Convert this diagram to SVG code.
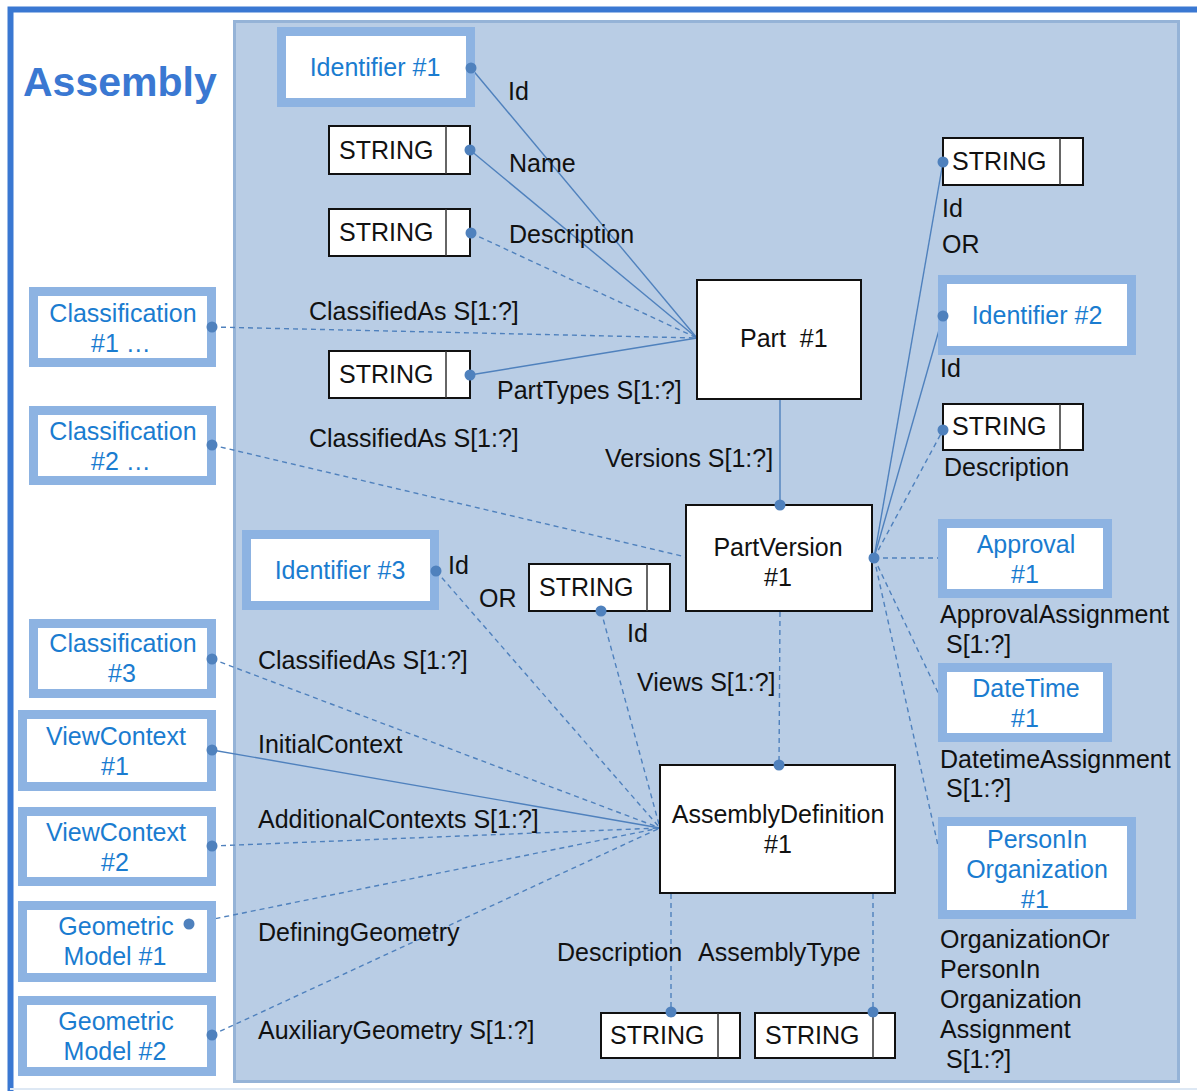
<svg xmlns="http://www.w3.org/2000/svg" width="1197" height="1091" viewBox="0 0 1197 1091">
<style>
text{font-family:"Liberation Sans",Arial,sans-serif;font-size:25px;fill:#111}
.b{fill:#1a7cd0;text-anchor:middle}
.c{text-anchor:middle}
.frame{fill:#fff;stroke:#8db3e2;stroke-width:9}
.ent{fill:#fff;stroke:#111;stroke-width:2}
.str{fill:#fff;stroke:#111;stroke-width:2}
.div{stroke:#333;stroke-width:1.5}
.ln{stroke:#4f81bd;stroke-width:1.4;fill:none}
.d{stroke-dasharray:5 4}
.dot{fill:#4f81bd}
</style>
<rect x="0" y="0" width="1197" height="1091" fill="#fff"/>
<path d="M10.5 1091 V9.5 H1197" fill="none" stroke="#3a78d2" stroke-width="6"/>
<line x1="10" y1="1089" x2="1197" y2="1089" stroke="#dde8f4" stroke-width="2"/>
<rect x="234.5" y="21.5" width="944" height="1060" fill="#b9cde5" stroke="#95b3d7" stroke-width="3"/>
<text x="23" y="96" style="font-size:41px;font-weight:bold;fill:#3a78d2">Assembly</text>

<g id="connectors">
<line class="ln" x1="471" y1="68" x2="697" y2="338"/>
<line class="ln" x1="470" y1="150" x2="697" y2="338"/>
<line class="ln d" x1="471" y1="233" x2="697" y2="338"/>
<line class="ln d" x1="212" y1="327" x2="697" y2="338"/>
<line class="ln" x1="470" y1="375" x2="697" y2="338"/>
<line class="ln" x1="780" y1="399" x2="780" y2="505"/>
<line class="ln d" x1="212" y1="445" x2="686" y2="557"/>
<line class="ln" x1="874" y1="558" x2="943" y2="162"/>
<line class="ln" x1="874" y1="558" x2="943" y2="316"/>
<line class="ln d" x1="874" y1="558" x2="943" y2="430"/>
<line class="ln d" x1="874" y1="558" x2="939" y2="558"/>
<line class="ln d" x1="874" y1="558" x2="943" y2="703"/>
<line class="ln d" x1="874" y1="558" x2="943" y2="868"/>
<line class="ln d" x1="780" y1="612" x2="779" y2="765"/>
<line class="ln d" x1="436" y1="571" x2="660" y2="828"/>
<line class="ln d" x1="601" y1="611" x2="660" y2="828"/>
<line class="ln d" x1="212" y1="659" x2="660" y2="828"/>
<line class="ln" x1="212" y1="750" x2="660" y2="828"/>
<line class="ln d" x1="212" y1="846" x2="660" y2="828"/>
<line class="ln d" x1="189" y1="924" x2="660" y2="828"/>
<line class="ln d" x1="212" y1="1035" x2="660" y2="828"/>
<line class="ln d" x1="671" y1="894" x2="671" y2="1012"/>
<line class="ln d" x1="873" y1="894" x2="873" y2="1012"/>
</g>

<g id="labels">
<text x="508" y="100">Id</text>
<text x="509" y="172">Name</text>
<text x="509" y="243">Description</text>
<text x="309" y="320">ClassifiedAs S[1:?]</text>
<text x="497" y="399">PartTypes S[1:?]</text>
<text x="309" y="447">ClassifiedAs S[1:?]</text>
<text x="605" y="467">Versions S[1:?]</text>
<text x="942" y="217">Id</text>
<text x="942" y="253">OR</text>
<text x="940" y="377">Id</text>
<text x="944" y="476">Description</text>
<text x="940" y="623">ApprovalAssignment</text>
<text x="946" y="653">S[1:?]</text>
<text x="940" y="768">DatetimeAssignment</text>
<text x="946" y="797">S[1:?]</text>
<text x="940" y="948">OrganizationOr</text>
<text x="940" y="978">PersonIn</text>
<text x="940" y="1008">Organization</text>
<text x="940" y="1038">Assignment</text>
<text x="946" y="1068">S[1:?]</text>
<text x="448" y="574">Id</text>
<text x="479" y="607">OR</text>
<text x="627" y="642">Id</text>
<text x="637" y="691">Views S[1:?]</text>
<text x="258" y="669">ClassifiedAs S[1:?]</text>
<text x="258" y="753">InitialContext</text>
<text x="258" y="828">AdditionalContexts S[1:?]</text>
<text x="258" y="941">DefiningGeometry</text>
<text x="258" y="1039">AuxiliaryGeometry S[1:?]</text>
<text x="557" y="961">Description</text>
<text x="698" y="961">AssemblyType</text>
</g>

<g id="identifier1">
<rect class="frame" x="281.5" y="31.5" width="189" height="71"/>
<text class="b" x="375" y="76">Identifier #1</text>
<circle class="dot" cx="471" cy="68" r="5.5"/>
</g>
<g id="string-name">
<rect class="str" x="329" y="126" width="141" height="48"/>
<line class="div" x1="446" y1="126" x2="446" y2="174"/>
<text x="339" y="159">STRING</text>
<circle class="dot" cx="470" cy="150" r="5.5"/>
</g>
<g id="string-desc">
<rect class="str" x="329" y="209" width="141" height="47"/>
<line class="div" x1="446" y1="209" x2="446" y2="256"/>
<text x="339" y="241">STRING</text>
<circle class="dot" cx="471" cy="233" r="5.5"/>
</g>
<g id="string-parttypes">
<rect class="str" x="329" y="351" width="141" height="47"/>
<line class="div" x1="446" y1="351" x2="446" y2="398"/>
<text x="339" y="383">STRING</text>
<circle class="dot" cx="470" cy="375" r="5.5"/>
</g>
<g id="part1">
<rect class="ent" x="697" y="280" width="164" height="119"/>
<text x="740" y="347" xml:space="preserve">Part  #1</text>
</g>
<g id="partversion1">
<rect class="ent" x="686" y="505" width="186" height="106"/>
<text class="c" x="778" y="556">PartVersion</text>
<text class="c" x="778" y="586">#1</text>
<circle class="dot" cx="780" cy="505" r="5.5"/>
<circle class="dot" cx="874" cy="558" r="5.5"/>
</g>
<g id="assemblydefinition1">
<rect class="ent" x="660" y="765" width="235" height="128"/>
<text class="c" x="778" y="823">AssemblyDefinition</text>
<text class="c" x="778" y="853">#1</text>
<circle class="dot" cx="779" cy="765" r="5.5"/>
</g>
<g id="string-id-right">
<rect class="str" x="943" y="138" width="140" height="47"/>
<line class="div" x1="1060" y1="138" x2="1060" y2="185"/>
<text x="952" y="170">STRING</text>
<circle class="dot" cx="943" cy="162" r="5.5"/>
</g>
<g id="identifier2">
<rect class="frame" x="942.5" y="279.5" width="189" height="71"/>
<text class="b" x="1037" y="324">Identifier #2</text>
<circle class="dot" cx="943" cy="316" r="5.5"/>
</g>
<g id="string-desc-right">
<rect class="str" x="943" y="404" width="140" height="46"/>
<line class="div" x1="1060" y1="404" x2="1060" y2="450"/>
<text x="952" y="435">STRING</text>
<circle class="dot" cx="943" cy="430" r="5.5"/>
</g>
<g id="approval1">
<rect class="frame" x="942.5" y="523.5" width="165" height="70"/>
<text class="b" x="1026" y="553">Approval</text>
<text class="b" x="1025" y="583">#1</text>
</g>
<g id="datetime1">
<rect class="frame" x="942.5" y="667.5" width="165" height="70"/>
<text class="b" x="1026" y="697">DateTime</text>
<text class="b" x="1025" y="727">#1</text>
</g>
<g id="personinorganization1">
<rect class="frame" x="942.5" y="821.5" width="189" height="93"/>
<text class="b" x="1037" y="848">PersonIn</text>
<text class="b" x="1037" y="878">Organization</text>
<text class="b" x="1035" y="908">#1</text>
</g>
<g id="identifier3">
<rect class="frame" x="246.5" y="534.5" width="188" height="71"/>
<text class="b" x="340" y="579">Identifier #3</text>
<circle class="dot" cx="436" cy="571" r="5.5"/>
</g>
<g id="string-id-mid">
<rect class="str" x="529" y="564" width="141" height="47"/>
<line class="div" x1="647" y1="564" x2="647" y2="611"/>
<text x="539" y="596">STRING</text>
<circle class="dot" cx="601" cy="611" r="5.5"/>
</g>
<g id="classification1">
<rect class="frame" x="33.5" y="291.5" width="178" height="71"/>
<text class="b" x="123" y="322">Classification</text>
<text class="b" x="121" y="352">#1 …</text>
<circle class="dot" cx="212" cy="327" r="5.5"/>
</g>
<g id="classification2">
<rect class="frame" x="33.5" y="410.5" width="178" height="70"/>
<text class="b" x="123" y="440">Classification</text>
<text class="b" x="121" y="470">#2 …</text>
<circle class="dot" cx="212" cy="445" r="5.5"/>
</g>
<g id="classification3">
<rect class="frame" x="33.5" y="623.5" width="178" height="70"/>
<text class="b" x="123" y="652">Classification</text>
<text class="b" x="122" y="682">#3</text>
<circle class="dot" cx="212" cy="659" r="5.5"/>
</g>
<g id="viewcontext1">
<rect class="frame" x="22.5" y="714.5" width="189" height="72"/>
<text class="b" x="116" y="745">ViewContext</text>
<text class="b" x="115" y="775">#1</text>
<circle class="dot" cx="212" cy="750" r="5.5"/>
</g>
<g id="viewcontext2">
<rect class="frame" x="22.5" y="811.5" width="189" height="70"/>
<text class="b" x="116" y="841">ViewContext</text>
<text class="b" x="115" y="871">#2</text>
<circle class="dot" cx="212" cy="846" r="5.5"/>
</g>
<g id="geometricmodel1">
<rect class="frame" x="22.5" y="905.5" width="189" height="72"/>
<text class="b" x="116" y="935">Geometric</text>
<text class="b" x="115" y="965">Model #1</text>
<circle class="dot" cx="189" cy="924" r="5.5"/>
</g>
<g id="geometricmodel2">
<rect class="frame" x="22.5" y="1000.5" width="189" height="71"/>
<text class="b" x="116" y="1030">Geometric</text>
<text class="b" x="115" y="1060">Model #2</text>
<circle class="dot" cx="212" cy="1035" r="5.5"/>
</g>
<g id="string-bottom1">
<rect class="str" x="601" y="1013" width="139" height="45"/>
<line class="div" x1="718" y1="1013" x2="718" y2="1058"/>
<text x="610" y="1044">STRING</text>
<circle class="dot" cx="671" cy="1012" r="5.5"/>
</g>
<g id="string-bottom2">
<rect class="str" x="755" y="1013" width="140" height="45"/>
<line class="div" x1="873" y1="1013" x2="873" y2="1058"/>
<text x="765" y="1044">STRING</text>
<circle class="dot" cx="873" cy="1012" r="5.5"/>
</g>
</svg>
